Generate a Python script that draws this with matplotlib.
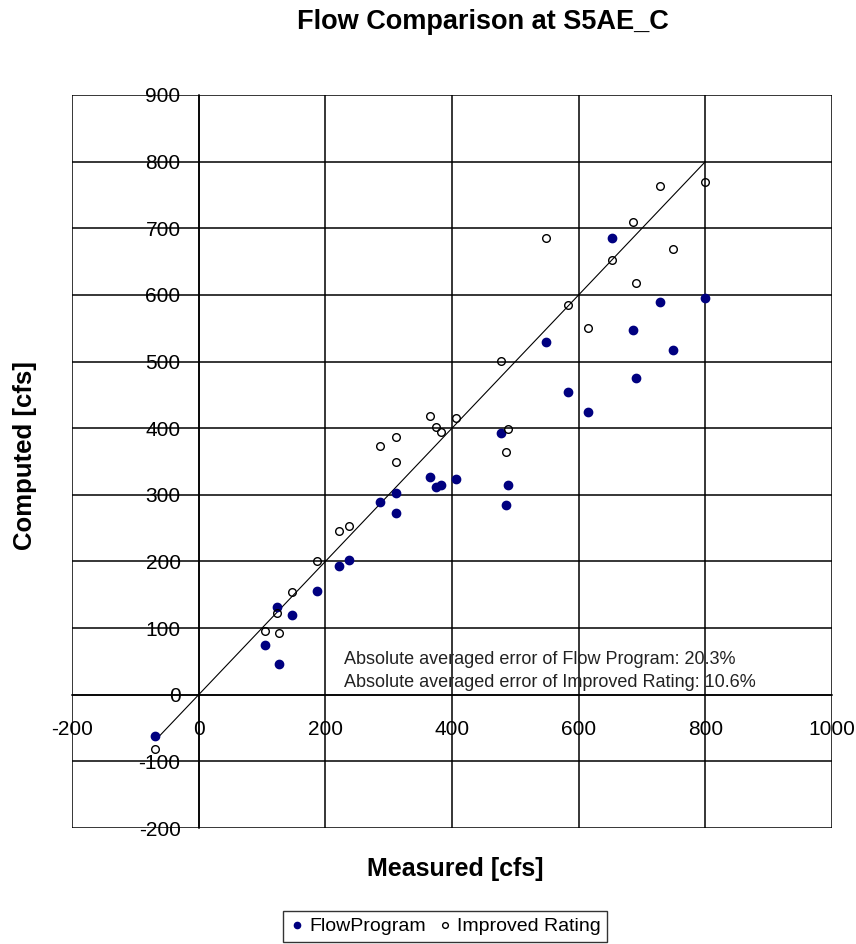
import numpy as np
import matplotlib.pyplot as plt

# measured flows and the two computed series (cfs)
measured = [-69, 104, 124, 127, 148, 187, 222, 238, 286, 312, 312, 366, 374, 382,
            406, 477, 485, 488, 549, 583, 615, 653, 686, 691, 729, 749, 800]
flow_program = [-62, 75, 131, 46, 119, 156, 193, 202, 289, 302, 272, 327, 312, 315,
                323, 393, 284, 314, 529, 455, 425, 685, 547, 476, 590, 518, 596]
improved_rating = [-82, 95, 123, 92, 154, 200, 246, 253, 374, 387, 350, 418, 402, 395,
                   415, 501, 365, 399, 685, 585, 550, 653, 710, 618, 764, 669, 769]
line_x = [-65, 800]
line_y = [-65, 800]

x_ticks = [-200, 0, 200, 400, 600, 800, 1000]
y_ticks = [-200, -100, 0, 100, 200, 300, 400, 500, 600, 700, 800, 900]

plt.rcParams['font.family'] = ['Liberation Sans', 'DejaVu Sans']
plt.rcParams['axes.unicode_minus'] = False

fig = plt.figure(figsize=(8.56, 9.44), dpi=100)
ax = fig.add_axes([72/856, 1-828/944, 760/856, 733/944])

ax.plot(line_x, line_y, color='black', lw=0.8, zorder=3)
ax.plot(measured, flow_program, 'o', color='#000080', ms=6, label='FlowProgram', zorder=4)
ax.plot(measured, improved_rating, 'o', mfc='none', mec='black', ms=5.5, mew=1,
        label='Improved Rating', zorder=4)

ax.set_xlim(-200, 1000)
ax.set_ylim(-200, 900)
ax.set_xticks(x_ticks)
ax.set_yticks(y_ticks)
ax.grid(True, color='black', lw=1.1, zorder=1)
ax.set_axisbelow(True)
for gl in ax.get_xgridlines() + ax.get_ygridlines():
    gl.set_clip_on(False)

for s in ['top', 'right']:
    ax.spines[s].set_visible(False)
ax.spines['left'].set_position(('data', 0))
ax.spines['bottom'].set_position(('data', 0))
ax.spines['left'].set_linewidth(1.1)
ax.spines['bottom'].set_linewidth(1.1)
ax.tick_params(axis='y', length=0, pad=13, labelsize=15)
ax.tick_params(axis='x', length=0, pad=18, labelsize=15)

ax.text(230, 46, 'Absolute averaged error of Flow Program: 20.3%', fontsize=13,
        color='#222222', zorder=2)
ax.text(230, 11, 'Absolute averaged error of Improved Rating: 10.6%', fontsize=13,
        color='#222222', zorder=2)

fig.text(483/856, 1-22/944, 'Flow Comparison at S5AE_C', ha='center', va='center',
         fontsize=19.5, fontweight='bold')
fig.text(455/856, 1-869/944, 'Measured [cfs]', ha='center', va='center',
         fontsize=18, fontweight='bold')
fig.text(25/856, 1-455/944, 'Computed [cfs]', ha='center', va='center',
         fontsize=18.5, fontweight='bold', rotation=90)

fig.legend(loc='upper center', bbox_to_anchor=(445/856, 1-911/944), ncol=2, fontsize=14,
           frameon=True, fancybox=False, edgecolor='black', handletextpad=0.2,
           columnspacing=0.6, handlelength=0.8, borderpad=0.35, borderaxespad=0,
           markerscale=0.75)

fig.savefig('out.png', dpi=100)
